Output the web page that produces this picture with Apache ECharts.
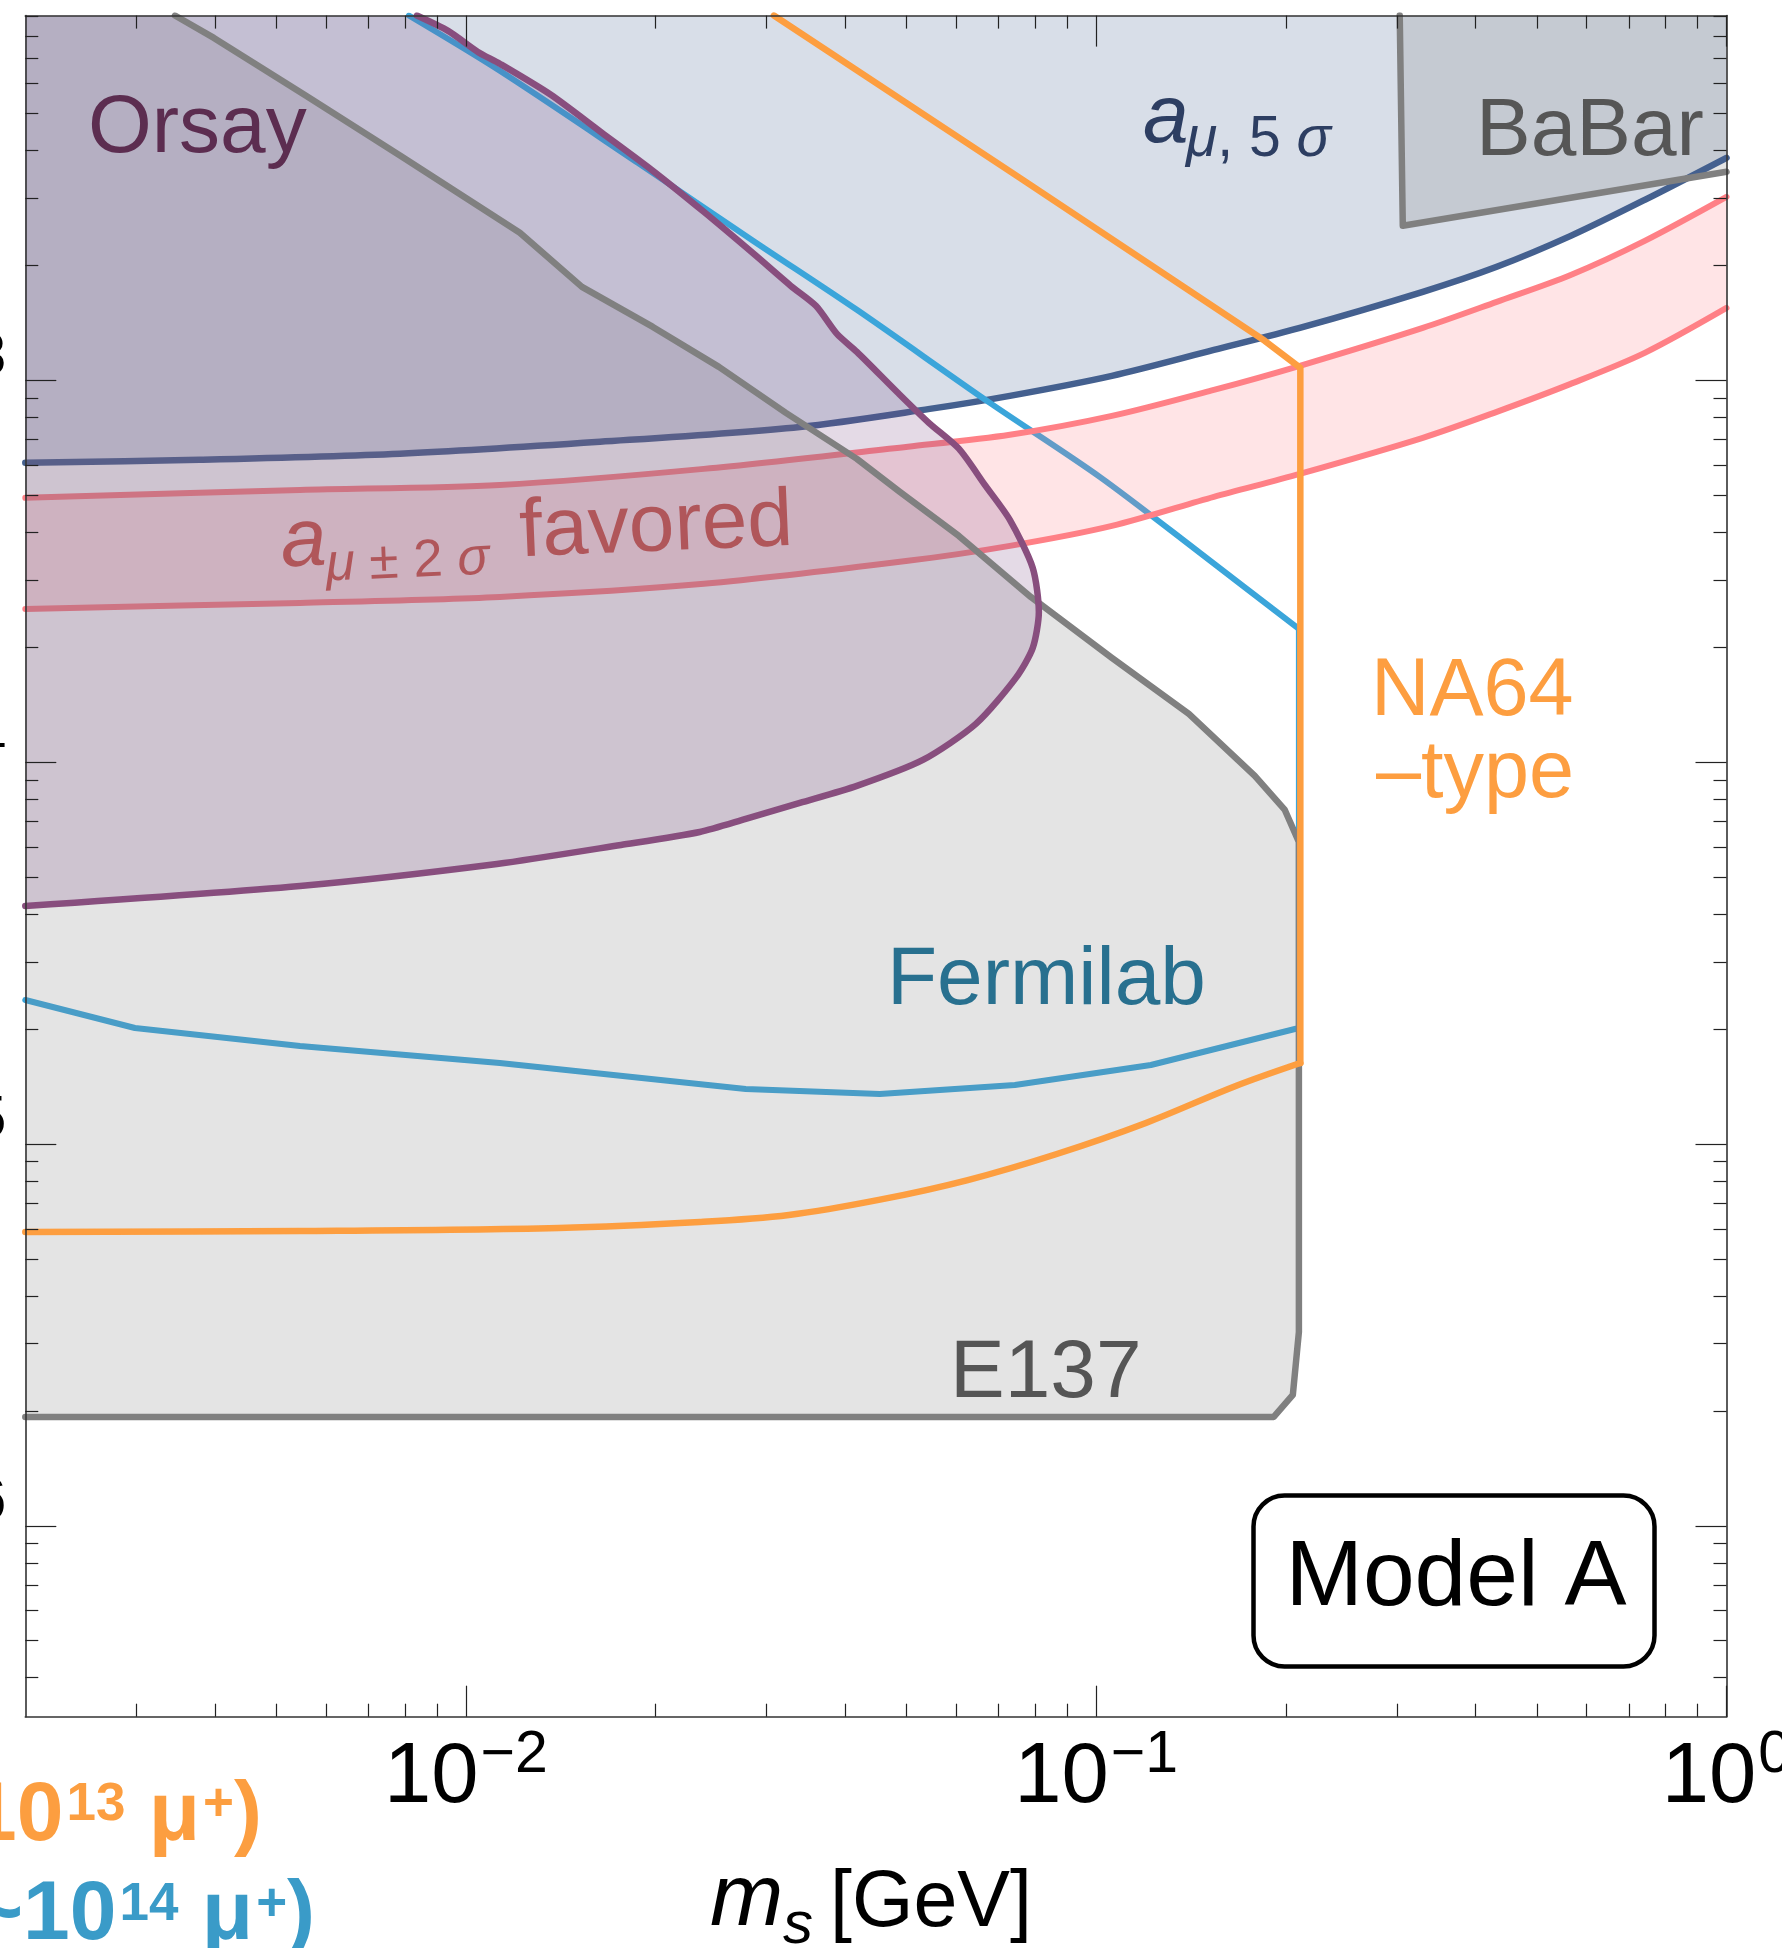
<!DOCTYPE html>
<html>
<head>
<meta charset="utf-8">
<script src="https://cdn.jsdelivr.net/npm/echarts@6/dist/echarts.min.js"></script>
<style>html,body{margin:0;padding:0;background:#fff}#c{width:1782px;height:1948px}</style>
</head>
<body>
<div id="c"></div>
<script>
// ---------- axis ranges and ticks ----------
const X_MIN = 0.002, X_MAX = 1;
const Y_MIN = Math.pow(10, -6.5), Y_MAX = Math.pow(10, -2.044);
const X_LABEL_EXP = [-2, -1, 0];
const Y_LABEL_EXP = [-6, -5, -4, -3];
const X_DECADES = [-3, -2, -1];
const Y_DECADES = [-7, -6, -5, -4, -3];
const MANTISSAS = [2, 3, 4, 5, 6, 7, 8, 9];

// ---------- curves: [m_s (GeV), coupling] ----------
const AMU5 = [[0.002,6.09e-4],[0.003785,6.20e-4],[0.00786,6.43e-4],[0.01632,6.91e-4],[0.03388,7.56e-4],[0.05446,8.43e-4],[0.07295,9.12e-4],[0.1059,1.029e-3],[0.1537,1.203e-3],[0.2104,1.374e-3],[0.3298,1.708e-3],[0.4320,1.986e-3],[0.5660,2.393e-3],[0.7418,2.974e-3],[1.0,3.833e-3]];
const AMU2_UP = [[0.002,4.93e-4],[0.005455,5.17e-4],[0.01132,5.33e-4],[0.02385,5.87e-4],[0.05027,6.71e-4],[0.07295,7.21e-4],[0.1059,8.08e-4],[0.1537,9.45e-4],[0.2104,1.093e-3],[0.3298,1.374e-3],[0.4320,1.608e-3],[0.5660,1.891e-3],[0.7418,2.323e-3],[1.0,3.029e-3]];
const AMU2_LO = [[0.002,2.523e-4],[0.005455,2.616e-4],[0.01132,2.712e-4],[0.02385,2.934e-4],[0.05027,3.371e-4],[0.07295,3.690e-4],[0.1059,4.163e-4],[0.1537,4.96e-4],[0.2104,5.696e-4],[0.3298,7.08e-4],[0.4320,8.28e-4],[0.5660,9.80e-4],[0.7418,1.182e-3],[1.0,1.55e-3]];
const ORSAY = [[0.00836,9.04e-3],[0.00937,8.24e-3],[0.01045,7.26e-3],[0.01132,6.76e-3],[0.01364,5.605e-3],[0.01644,4.455e-3],[0.01980,3.543e-3],[0.02385,2.767e-3],[0.02874,2.135e-3],[0.03278,1.770e-3],[0.03592,1.570e-3],[0.03879,1.325e-3],[0.04172,1.189e-3],[0.04845,9.29e-4],[0.05426,7.75e-4],[0.06055,6.63e-4],[0.06658,5.33e-4],[0.07295,4.315e-4],[0.07932,3.23e-4],[0.0811,2.477e-4],[0.07932,1.994e-4],[0.07458,1.664e-4],[0.06444,1.261e-4],[0.0531,1.0145e-4],[0.04172,8.675e-5],[0.03388,7.826e-5],[0.0278,7.107e-5],[0.0235,6.57e-5],[0.01762,6.075e-5],[0.0112,5.418e-5],[0.005455,4.745e-5],[0.002,4.205e-5]];
const E137 = [[0.003455,9.04e-3],[0.003983,7.90e-3],[0.005577,5.571e-3],[0.007917,3.856e-3],[0.01218,2.438e-3],[0.01528,1.760e-3],[0.0198,1.382e-3],[0.0252,1.086e-3],[0.03219,8.23e-4],[0.04172,6.235e-4],[0.04881,5.11e-4],[0.06055,3.917e-4],[0.07874,2.712e-4],[0.1059,1.877e-4],[0.1403,1.339e-4],[0.1785,9.21e-5],[0.1992,7.503e-5],[0.2097,6.186e-5],[0.2097,3.219e-6],[0.2051,2.202e-6],[0.1913,1.928e-6],[0.002,1.928e-6]];
const FERMILAB_UP = [[0.00812,9.04e-3],[0.01132,6.476e-3],[0.01874,3.718e-3],[0.02874,2.308e-3],[0.04172,1.532e-3],[0.06782,8.74e-4],[0.1013,5.594e-4],[0.1461,3.536e-4],[0.2097,2.236e-4]];
const FERMILAB_LOW = [[0.2097,2.236e-4],[0.2097,2.014e-5],[0.1221,1.611e-5],[0.0743,1.428e-5],[0.04536,1.352e-5],[0.0278,1.394e-5],[0.01132,1.631e-5],[0.005455,1.807e-5],[0.002985,2.014e-5],[0.002,2.384e-5]];
const NA64_EDGE = [[0.03081,9.04e-3],[0.07566,3.396e-3],[0.1851,1.271e-3],[0.2108,1.080e-3],[0.2108,1.631e-5]];
const NA64_LOW = [[0.2108,1.631e-5],[0.1665,1.420e-5],[0.1199,1.136e-5],[0.08659,9.42e-6],[0.06256,8.05e-6],[0.04518,7.14e-6],[0.03254,6.52e-6],[0.0235,6.25e-6],[0.01404,6.03e-6],[0.005455,5.92e-6],[0.002,5.885e-6]];
const BABAR = [[0.3031,9.04e-3],[0.3065,2.543e-3],[1.0,3.522e-3]];

// ---------- helpers ----------
const FONT = 'Liberation Sans, Arial, Helvetica, sans-serif';
const lg = v => Math.log10(v);
const toLog = pts => pts.map(p => [lg(p[0]), lg(p[1])]);
function minorTicks(decades, lo, hi) {
  const out = [];
  decades.forEach(e => MANTISSAS.forEach(k => {
    const v = lg(k) + e;
    if (v > lo + 1e-6 && v < hi - 1e-6) out.push(v);
  }));
  return out;
}
const LXMIN = lg(X_MIN), LXMAX = lg(X_MAX), LYMIN = lg(Y_MIN), LYMAX = lg(Y_MAX);

function expLabel(v) {
  const e = Math.round(v);
  return '{b|10}{s|' + (e < 0 ? '\u2212' + (-e) : String(e)) + '}';
}
const labelRich = {
  b: { fontFamily: FONT, fontSize: 85, color: '#000', verticalAlign: 'top', padding: [10, 0, 10, 0] },
  s: { fontFamily: FONT, fontSize: 59, color: '#000', verticalAlign: 'top', padding: [0, 0, 0, 2] }
};
const frameLine = { color: '#333', width: 1.6 };
const tickLine = { color: '#222', width: 1.2 };

function axis(kind, pos, ticks, len, showLine, labels) {
  const a = {
    type: 'value', position: pos, z: 50,
    min: kind === 'x' ? LXMIN : LYMIN, max: kind === 'x' ? LXMAX : LYMAX,
    axisLine: { show: showLine, onZero: false, lineStyle: frameLine },
    axisTick: { show: true, inside: true, length: len, customValues: ticks, lineStyle: tickLine },
    splitLine: { show: false },
    axisPointer: { show: false },
    axisLabel: { show: false }
  };
  if (labels) {
    a.axisLabel = { show: true, customValues: labels, margin: kind === 'x' ? 9.5 : 19,
      fontFamily: FONT, formatter: expLabel, rich: labelRich };
  }
  return a;
}

function fillSeries(pts, color, z) {
  const lp = toLog(pts);
  return {
    type: 'custom', coordinateSystem: 'cartesian2d', xAxisIndex: 0, yAxisIndex: 0,
    z: z, clip: true, silent: true, animation: false,
    data: [[lp[0][0], lp[0][1]]],
    renderItem: (params, api) => ({
      type: 'polygon',
      shape: { points: lp.map(p => api.coord(p)) },
      style: { fill: color }
    })
  };
}
function lineSeries(pts, color, width, z, smooth) {
  return {
    type: 'line', xAxisIndex: 0, yAxisIndex: 0, z: z,
    data: toLog(pts), showSymbol: false, symbol: 'none', silent: true, clip: true,
    animation: false, smooth: smooth || false,
    lineStyle: { color: color, width: width, join: 'round', cap: 'round' }
  };
}

// polygons built from the curves
const AMU5_REGION = AMU5.concat([[X_MAX, Y_MAX], [X_MIN, Y_MAX]]);
const BAND_REGION = AMU2_UP.concat(AMU2_LO.slice().reverse());
const E137_REGION = [[X_MIN, Y_MAX]].concat(E137);
const ORSAY_REGION = [[X_MIN, Y_MAX]].concat(ORSAY);
const BABAR_REGION = BABAR.concat([[X_MAX, Y_MAX]]);

function txt(x, y, text, size, color, extra) {
  return { type: 'text', z: 100, silent: true,
    style: Object.assign({ x: x, y: y, text: text, fontSize: size, fontFamily: FONT, fill: color,
      align: 'left', verticalAlign: 'middle', textAlign: 'left', textVerticalAlign: 'middle' }, extra || {}) };
}
function richTxt(x, y, text, rich, extra) {
  return { type: 'text', z: 100, silent: true,
    style: Object.assign({ x: x, y: y, text: text, rich: rich, fontFamily: FONT,
      align: 'left', verticalAlign: 'middle', textAlign: 'left', textVerticalAlign: 'middle' }, extra || {}) };
}
function tok(size, color, o) {
  return Object.assign({ fontSize: size, fontFamily: FONT, fill: color, color: color }, o || {});
}

const ORANGE = '#fd9e40', BLUE = '#3ba5da';
const legRich = c => ({
  m: tok(84, c, { fontWeight: 'bold', verticalAlign: 'top' }),
  s: tok(53, c, { fontWeight: 'bold', verticalAlign: 'top', padding: [4.5, 0, 0, 3] })
});

const chart = echarts.init(document.getElementById('c'), null, { renderer: 'canvas' });
chart.setOption({
  animation: false,
  backgroundColor: '#ffffff',
  grid: { left: 25.3, right: 55.5, top: 15.6, bottom: 231.3, containLabel: false, outerBoundsMode: 'none' },
  xAxis: [
    axis('x', 'bottom', X_LABEL_EXP, 31, true, X_LABEL_EXP),
    axis('x', 'bottom', minorTicks(X_DECADES, LXMIN, LXMAX), 13, false, null),
    axis('x', 'top', X_LABEL_EXP, 31, true, null),
    axis('x', 'top', minorTicks(X_DECADES, LXMIN, LXMAX), 13, false, null)
  ],
  yAxis: [
    axis('y', 'left', Y_LABEL_EXP, 31, true, Y_LABEL_EXP),
    axis('y', 'left', minorTicks(Y_DECADES, LYMIN, LYMAX), 13, false, null),
    axis('y', 'right', Y_LABEL_EXP, 31, true, null),
    axis('y', 'right', minorTicks(Y_DECADES, LYMIN, LYMAX), 13, false, null)
  ],
  series: [
    fillSeries(AMU5_REGION, 'rgba(62,90,140,0.2)', 1),
    fillSeries(BABAR_REGION, 'rgba(128,128,128,0.21)', 2),
    lineSeries(AMU5, '#44608f', 6.5, 3, 0.3),
    lineSeries(FERMILAB_UP, BLUE, 6, 4, 0.3),
    lineSeries(FERMILAB_LOW, BLUE, 6, 4),
    fillSeries(BAND_REGION, 'rgba(255,120,130,0.2)', 5),
    lineSeries(AMU2_UP, '#ff8086', 6, 6, 0.3),
    lineSeries(AMU2_LO, '#ff8086', 6, 6, 0.3),
    fillSeries(E137_REGION, 'rgba(128,128,128,0.21)', 7),
    fillSeries(ORSAY_REGION, 'rgba(120,70,130,0.2)', 8),
    lineSeries(BABAR, '#808080', 6.5, 9),
    lineSeries(E137, '#808080', 6.5, 10),
    lineSeries(ORSAY, '#884e7e', 6.5, 11, 0.25),
    lineSeries(NA64_EDGE, ORANGE, 6.5, 12),
    lineSeries(NA64_LOW, ORANGE, 6.5, 12, 0.35)
  ],
  graphic: [
    txt(88, 129, 'Orsay', 82, '#5c2d50'),
    txt(1143, 119, 'a', 82, '#2d3e62', { fontStyle: 'italic' }),
    richTxt(1186, 140, '{i|\u03bc}{n|, 5 }{i|\u03c3}', {
      i: tok(57, '#2d3e62', { fontStyle: 'italic' }), n: tok(57, '#2d3e62') }),
    txt(1476, 132, 'BaBar', 82, '#565656'),
    { type: 'group', x: 285, y: 572, rotation: 0.042, z: 100, children: [
      txt(-3, -28.4, 'a', 82, '#b0565a', { fontStyle: 'italic' }),
      richTxt(41, -4.4, '{i|\u03bc}{n| \u00b1 2 }{i|\u03c3}', {
        i: tok(53, '#b0565a', { fontStyle: 'italic' }), n: tok(53, '#b0565a') }),
      txt(236, -28.4, 'favored', 82, '#b0565a')
    ]},
    txt(1371, 693, 'NA64', 81, ORANGE),
    txt(1376, 775, '\u2013type', 81, ORANGE),
    txt(887, 981, 'Fermilab', 82, '#28708f'),
    txt(950, 1374, 'E137', 82, '#555555'),
    { type: 'rect', z: 100, silent: true,
      shape: { x: 1253.5, y: 1495.5, width: 401, height: 171, r: 31 },
      style: { fill: '#ffffff', stroke: '#000000', lineWidth: 4.5 } },
    txt(1456, 1579, 'Model A', 93, '#000000', { align: 'center', textAlign: 'center' }),
    txt(710, 1901, 'm', 88, '#000000', { fontStyle: 'italic' }),
    txt(783, 1926, 's', 60, '#000000', { fontStyle: 'italic' }),
    txt(830, 1904, '[GeV]', 79, '#000000'),
    richTxt(-30, 1774.8, '{m|10}{s|13}{m| \u03bc}{s|+}{m|)}', legRich('#fc9e40'),
      { verticalAlign: 'top', textVerticalAlign: 'top' }),
    richTxt(-26, 1874, '{m|~10}{s|14}{m| \u03bc}{s|+}{m|)}', legRich('#3a9bc8'),
      { verticalAlign: 'top', textVerticalAlign: 'top' })
  ]
});
</script>
</body>
</html>
